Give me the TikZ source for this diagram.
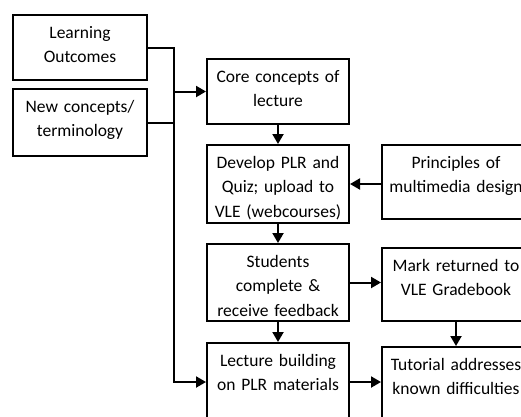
\documentclass[tikz,border=0pt]{standalone}
\usepackage{fontspec}
\setmainfont{Carlito}
\usetikzlibrary{arrows.meta}
\tikzset{
  box/.style={draw, line width=2pt, anchor=north west, inner sep=0pt,
    align=center, text height=23pt, font=\fontsize{17.5}{24.5}\selectfont},
  flow/.style={draw, line width=2pt, -{Triangle[length=10pt,width=11pt]}}
}
\begin{document}
\begin{tikzpicture}[x=1pt,y=-1pt]
      \useasboundingbox (0,0) rectangle (521,416);
      \clip (0,0) rectangle (521,416);
      % left column
      \node[box, text width=134pt, text depth=42pt] (lo) at (12,14) {Learning\\Outcomes};
      \node[box, text width=134pt, text depth=44pt] (nc) at (12,88) {New concepts/\\terminology};
      % middle column
      \node[box, text width=142pt, text depth=42pt] (core) at (206,58) {Core concepts of\\lecture};
      \node[box, text width=142pt, text depth=55pt] (dev) at (206,144) {Develop PLR and\\Quiz; upload to\\VLE (webcourses)};
      \node[box, text width=142pt, text depth=54pt] (stu) at (206,243) {Students\\complete \&\\receive feedback};
      \node[box, text width=142pt, text depth=55pt] (lec) at (206,342) {Lecture building\\on PLR materials};
      % right column
      \node[box, text width=148pt, text depth=51pt] (prin) at (381,144) {Principles of\\multimedia design};
      \node[box, text width=148pt, text depth=50pt] (mark) at (381,247) {Mark returned to\\VLE Gradebook};
      \node[box, text width=148pt, text depth=55pt] (tut) at (381,346) {Tutorial addresses\\known difficulties};
      \coordinate (bus) at (174,0);
      \path[flow] (lo.east) -| (bus |- core.west) -- (core.west);
      \path[flow, -] (nc.east) -- (nc.east -| bus);
      \path[flow] (bus |- core.west) |- (lec.west);
      \path[flow] (core) -- (dev);
      \path[flow] (prin.west |- dev.east) -- (dev.east);
      \path[flow] (dev) -- (stu);
      \path[flow] (stu.east) -- (stu.east -| mark.west);
      \path[flow] (stu) -- (lec);
      \path[flow] (mark) -- (tut);
      \path[flow] (lec.east) -- (lec.east -| tut.west);
    \end{tikzpicture}
\end{document}
